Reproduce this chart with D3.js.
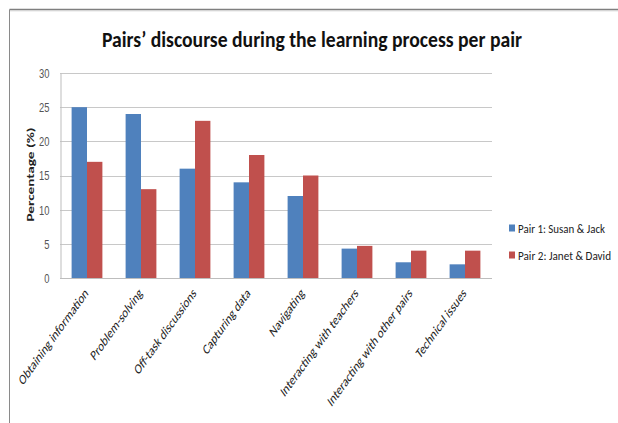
<!DOCTYPE html>
<html>
<head>
<meta charset="utf-8">
<script src="https://cdn.jsdelivr.net/npm/d3@7"></script>
<style>
  html, body { margin: 0; padding: 0; background: #fff; }
  svg { display: block; font-family: Carlito, Lato, "Open Sans", sans-serif; }
</style>
</head>
<body>
<svg id="chart" width="618" height="423"></svg>
<script>
// Share of discourse per category, for each pair
const categories = [
  "Obtaining information", "Problem-solving", "Off-task discussions", "Capturing data",
  "Navigating", "Interacting with teachers", "Interacting with other pairs", "Technical issues"
];
const seriesNames = ["Pair 1: Susan & Jack", "Pair 2: Janet & David"];
const pair1 = [25, 24, 16, 14, 12, 4.3, 2.3, 2];
const pair2 = [17, 13, 23, 18, 15, 4.7, 4, 4];
const yTicks = [0, 5, 10, 15, 20, 25, 30];
const titleText = "Pairs’ discourse during the learning process per pair";
const yTitle = "Percentage (%)";

const colors = ["#4F81BD", "#C0504D"];
const sx = 0.75; // horizontal squeeze applied to all text

const svg = d3.select("#chart");

// outer frame
svg.append("line").attr("x1", 9.5).attr("y1", 9.5).attr("x2", 618).attr("y2", 9.5)
  .attr("stroke", "#7f7f7f").attr("stroke-width", 1.5);
svg.append("line").attr("x1", 9.5).attr("y1", 10.8).attr("x2", 618).attr("y2", 10.8)
  .attr("stroke", "#d0d0d0").attr("stroke-width", 1);
svg.append("line").attr("x1", 9.5).attr("y1", 9.5).attr("x2", 9.5).attr("y2", 423)
  .attr("stroke", "#8a8a8a").attr("stroke-width", 1);

const plot = { left: 60, right: 492, top: 73, bottom: 278 };

const x = d3.scaleBand().domain(categories).range([plot.left, plot.right]).paddingInner(0.43).paddingOuter(0.215);
const xi = d3.scaleBand().domain([0, 1]).range([0, x.bandwidth()]);
const y = d3.scaleLinear().domain([0, 30]).range([plot.bottom, plot.top]);

// gridlines
svg.append("g").selectAll("line").data(yTicks.filter(d => d > 0)).join("line")
  .attr("x1", plot.left).attr("x2", plot.right)
  .attr("y1", d => Math.round(y(d)) + 0.5).attr("y2", d => Math.round(y(d)) + 0.5)
  .attr("stroke", "#c8c8c8").attr("stroke-width", 1);

// y axis
const yAxis = svg.append("g").attr("transform", `translate(${plot.left + 0.5},0)`)
  .call(d3.axisLeft(y).tickValues(yTicks).tickSize(0).tickPadding(0));
yAxis.select(".domain").attr("stroke", "#bdbdbd");
yAxis.selectAll(".tick text").remove();
yAxis.selectAll(".tick").append("text")
  .attr("transform", `translate(-11,0) scale(${sx},1)`)
  .attr("text-anchor", "end").attr("dy", "0.35em")
  .attr("fill", "#555").attr("font-size", 12.5).text(d => d);

// bars
const groups = svg.append("g").selectAll("g").data(categories).join("g")
  .attr("transform", d => `translate(${x(d)},0)`);
groups.selectAll("rect").data((d, i) => [pair1[i], pair2[i]]).join("rect")
  .attr("x", (d, j) => xi(j)).attr("width", xi.bandwidth())
  .attr("y", d => y(d)).attr("height", d => plot.bottom - y(d))
  .attr("fill", (d, j) => colors[j]);

// x axis baseline
svg.append("line").attr("x1", plot.left).attr("x2", plot.right)
  .attr("y1", plot.bottom + 0.5).attr("y2", plot.bottom + 0.5)
  .attr("stroke", "#bdbdbd");

// category labels
svg.append("g").selectAll("text").data(categories).join("text")
  .attr("transform", d => `translate(${x(d) + x.bandwidth() / 2 + 2},${plot.bottom + 16}) scale(0.72,1) rotate(-45)`)
  .attr("text-anchor", "end").attr("font-size", 14.5).attr("fill", "#222")
  .text(d => d);

// y title
svg.append("text")
  .attr("transform", `translate(34,${(plot.top + plot.bottom) / 2 - 1}) scale(${sx},1) rotate(-90)`)
  .attr("text-anchor", "middle").attr("font-size", 13).attr("font-weight", "bold").attr("fill", "#222")
  .attr("textLength", 94).attr("lengthAdjust", "spacingAndGlyphs")
  .text(yTitle);

// title
svg.append("text")
  .attr("x", 312).attr("y", 47)
  .attr("text-anchor", "middle").attr("font-size", 23).attr("font-weight", "bold").attr("fill", "#111")
  .attr("textLength", 420).attr("lengthAdjust", "spacingAndGlyphs")
  .text(titleText);

// legend
const legend = svg.append("g").selectAll("g").data(seriesNames).join("g")
  .attr("transform", (d, i) => `translate(509,${228 + i * 27})`);
legend.append("rect").attr("x", 0).attr("y", -3.5).attr("width", 6).attr("height", 7)
  .attr("fill", (d, i) => colors[i]);
legend.append("text").attr("transform", `translate(9,0) scale(${sx},1)`)
  .attr("dy", "0.35em").attr("font-size", 13).attr("fill", "#222")
  .attr("textLength", (d, i) => (i === 0 ? 87 : 93) / sx).attr("lengthAdjust", "spacingAndGlyphs")
  .text(d => d);
</script>
</body>
</html>
